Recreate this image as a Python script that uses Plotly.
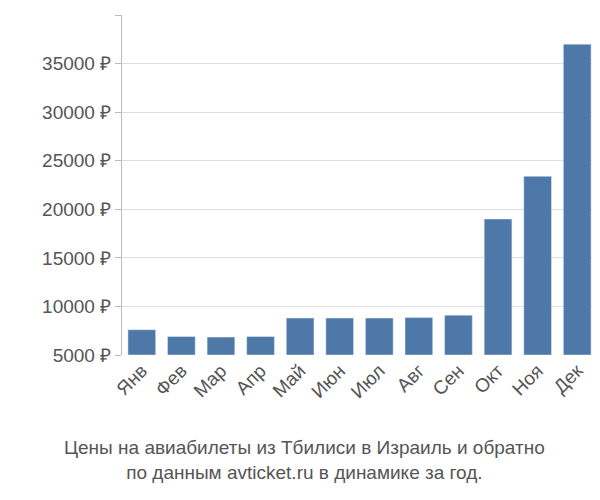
import plotly.graph_objects as go

months = ["Янв","Фев","Мар","Апр","Май","Июн","Июл","Авг","Сен","Окт","Ноя","Дек"]
prices = [7600, 6900, 6850, 6900, 8800, 8800, 8800, 8850, 9100, 19000, 23400, 37000]
tickvals = [5000,10000,15000,20000,25000,30000,35000,40000]
ticktext = [f"{v} ₽" for v in tickvals]

fig = go.Figure(go.Bar(x=months, y=[p-5000 for p in prices], base=5000, marker_color="#4d78a8", width=0.7))
fig.update_layout(
    width=592, height=492, plot_bgcolor="white", paper_bgcolor="white",
    margin=dict(l=114, r=3, t=7, b=145),
    font=dict(family="Liberation Sans, Arial", size=19, color="#555"),
    showlegend=False,
    xaxis=dict(tickangle=-45, showline=False, ticks=""),
    yaxis=dict(range=[5000,40000], tickvals=tickvals, ticktext=ticktext, gridcolor="#ddd",
               showline=True, linecolor="#bbb", zeroline=False, ticks="outside", ticklen=6, tickcolor="#bbb"),
    annotations=[dict(text="Цены на авиабилеты из Тбилиси в Израиль и обратно<br>по данным avticket.ru в динамике за год.",
                      x=0.5, xref="paper", y=-0.235, yref="paper", showarrow=False, xanchor="center", yanchor="top",
                      font=dict(size=19, color="#555"), xshift=-55)]
)
fig.write_html("out.html")
